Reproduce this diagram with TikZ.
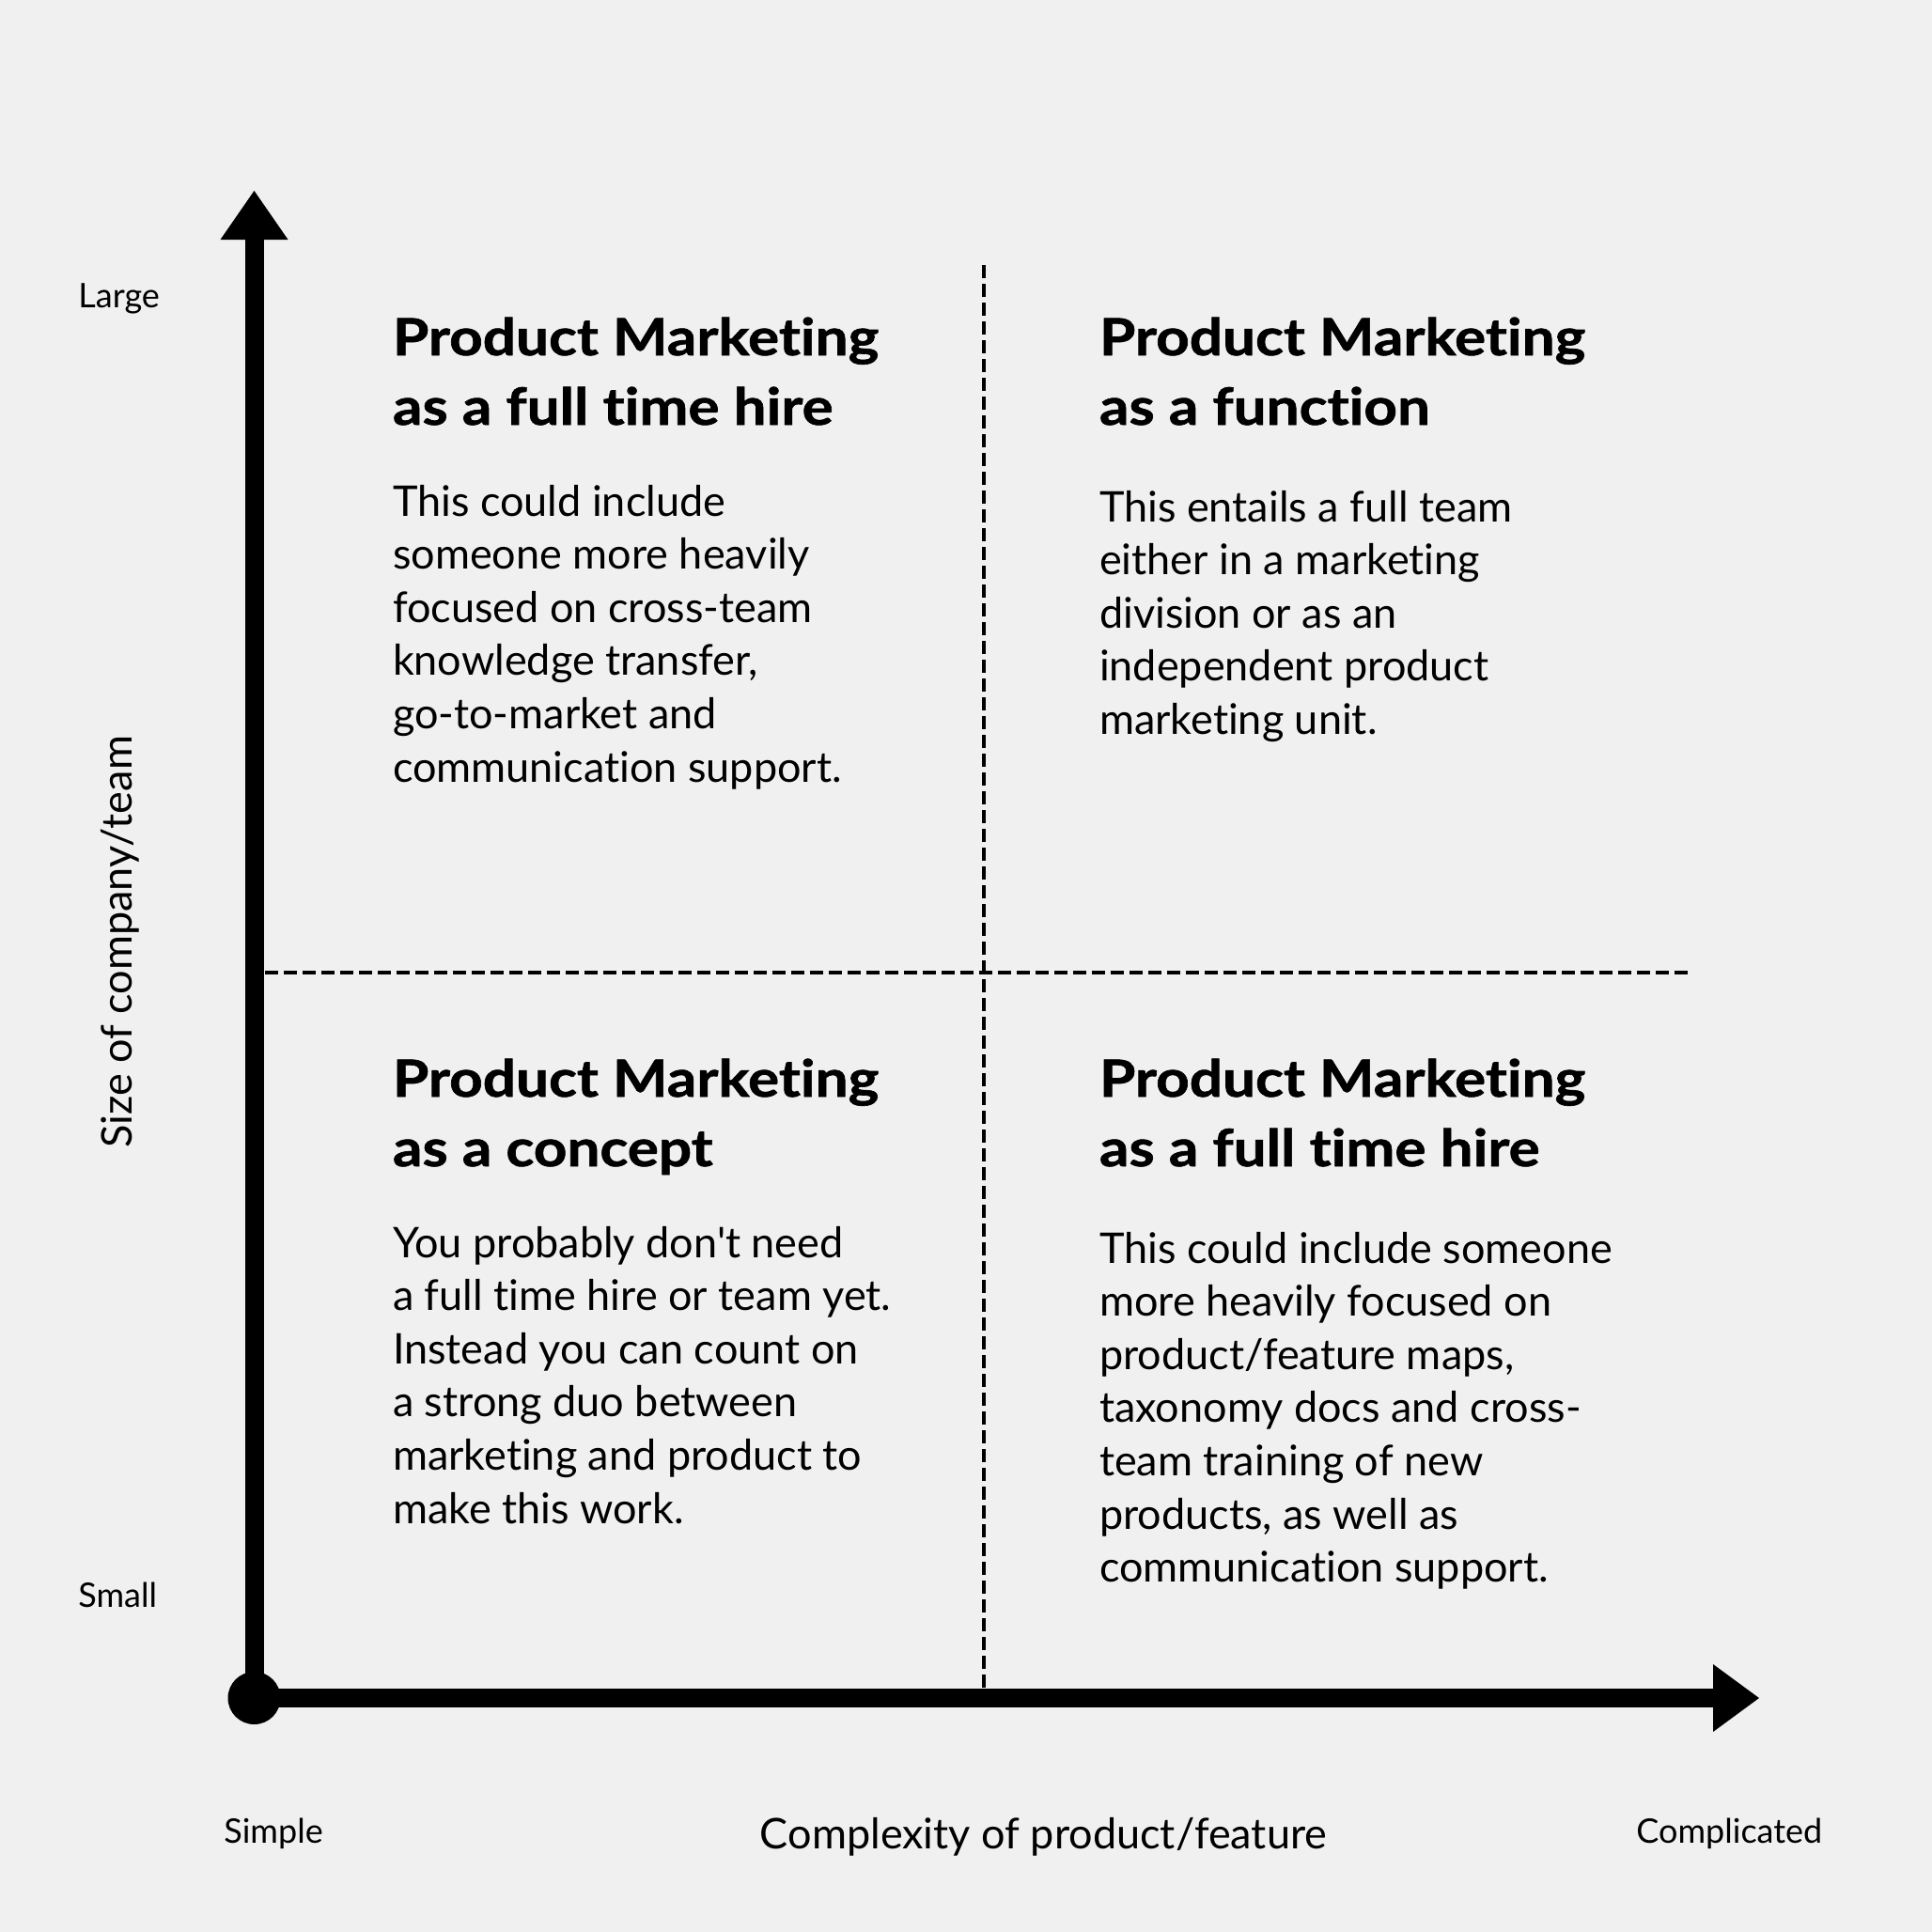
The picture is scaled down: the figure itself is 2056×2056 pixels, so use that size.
\documentclass[tikz,border=0pt]{standalone}
\usepackage{fontspec}
\setmainfont{Lato}
\newfontfamily\bodyfont{Lato}[Ligatures={NoCommon}]
\newfontfamily\headfont{Lato}[Ligatures={NoCommon}, BoldFeatures={FakeStretch=1.14, FakeBold=1.2}]
\definecolor{bg}{RGB}{240,240,240}
\newcommand\headtxt[1]{\parbox[t]{16cm}{\raggedright\fontsize{27.2}{37}\headfont\bfseries #1}}
\newcommand\bodytxt[1]{\parbox[t]{16cm}{\raggedright\fontsize{22.5}{28.3}\bodyfont #1}}
\begin{document}
\begin{tikzpicture}[x=0.5pt,y=-0.5pt,
  txt/.style={anchor=base west, inner sep=0pt, outer sep=0pt},
  lbl/.style={inner sep=0pt, font=\fontsize{18}{22}\selectfont},
  axlbl/.style={inner sep=0pt, font=\fontsize{22.5}{27}\selectfont},
  axis/.style={line width=10pt},
  divider/.style={line width=2pt, dash pattern=on 7pt off 3pt}]
\fill[bg] (0,0) rectangle (2056,2056);
\useasboundingbox (0,0) rectangle (2056,2056);

% axis points
\coordinate (O) at (270.5,1807);
\coordinate (Ybase) at (270.5,255);
\coordinate (Ytip) at (270.5,203);
\coordinate (Xbase) at (1823,1807);
\coordinate (Xtip) at (1872,1807);

% dividers
\coordinate (Vtop) at (1046.5,282);
\coordinate (Vbot) at (1046.5,1807);
\coordinate (Hl) at (282,1034.5);
\coordinate (Hr) at (1799,1034.5);
\draw[divider] (Vtop) -- (Vbot);
\draw[divider] (Hl) -- (Hr);

% axes
\draw[axis] (O) -- (Ybase);
\draw[axis] (O) -- (Xbase);
\fill ([xshift=-18pt]Ybase) -- ([xshift=18pt]Ybase) -- (Ytip) -- cycle;
\fill ([yshift=-18pt]Xbase) -- ([yshift=18pt]Xbase) -- (Xtip) -- cycle;
\fill (O) circle[radius=28];

% axis labels
\node[lbl, anchor=base west] (large) at (83,327) {Large};
\node[lbl, anchor=base west] (small) at (83,1710) {Small};
\node[lbl, anchor=base west] (simple) at (238,1961) {Simple};
\node[lbl, anchor=base west] (compl) at (1741,1961) {Complicated};
\node[axlbl, anchor=base] (xlabel) at (1110.5,1967) {Complexity of product/feature};
\node[axlbl, anchor=base, rotate=90] (ylabel) at (140,1002.5) {Size of company/team};

% quadrants
\node[txt] (h1) at (418,378) {\headtxt{Product Marketing\\as a full time hire}};
\node[txt] (b1) at (418,549) {\bodytxt{This could include\\someone more heavily\\focused on cross-team\\knowledge transfer,\\go-to-market and\\communication support.}};

\node[txt] (h2) at (1170,378) {\headtxt{Product Marketing\\as a function}};
\node[txt] (b2) at (1170,555) {\bodytxt{This entails a full team\\either in a marketing\\division or as an\\independent product\\marketing unit.}};

\node[txt] (h3) at (418,1167) {\headtxt{Product Marketing\\as a concept}};
\node[txt] (b3) at (418,1338) {\bodytxt{You probably don't need\\a full time hire or team yet.\\Instead you can count on\\a strong duo between\\marketing and product to\\make this work.}};

\node[txt] (h4) at (1170,1167) {\headtxt{Product Marketing\\as a full time hire}};
\node[txt] (b4) at (1170,1344) {\bodytxt{This could include someone\\more heavily focused on\\product/feature maps,\\taxonomy docs and cross-\\team training of new\\products, as well as\\communication support.}};
\end{tikzpicture}
\end{document}
